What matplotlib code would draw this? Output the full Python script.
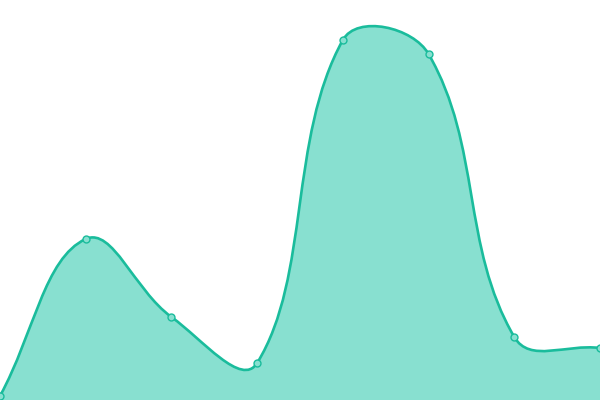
import numpy as np
import matplotlib
matplotlib.use("Agg")
import matplotlib.pyplot as plt
from matplotlib.path import Path
from matplotlib.patches import PathPatch

# dane
labels = ["A", "B", "C", "D", "E", "F", "G", "H"]
values = [4, 161, 83, 37, 360, 346, 63, 52]

line_color = "#1abc9c"
fill_color = "#88e0d0"
tension = 0.4

fig = plt.figure(figsize=(6, 4), dpi=100)
ax = fig.add_axes([0, 0, 1, 1])
ax.set_xlim(0, len(values) - 1)
ax.set_ylim(0, 400)
ax.axis("off")

# punkty w pikselach, zeby krzywa wygladala jak w Chart.js
xs = np.arange(len(values))
pts = ax.transData.transform(np.column_stack([xs, values]))


def spline_controls(pts, t):
    ctrl = []
    n = len(pts)
    for i in range(n):
        prev = pts[i - 1] if i > 0 else pts[i]
        cur = pts[i]
        nxt = pts[i + 1] if i < n - 1 else pts[i]
        d01 = np.hypot(*(cur - prev))
        d12 = np.hypot(*(nxt - cur))
        tot = d01 + d12
        s01 = d01 / tot if tot else 0
        s12 = d12 / tot if tot else 0
        c_prev = cur - t * s01 * (nxt - prev)
        c_next = cur + t * s12 * (nxt - prev)
        ctrl.append((c_prev, c_next))
    return ctrl


ctrl = spline_controls(pts, tension)
verts = [pts[0]]
codes = [Path.MOVETO]
for i in range(len(pts) - 1):
    verts += [ctrl[i][1], ctrl[i + 1][0], pts[i + 1]]
    codes += [Path.CURVE4] * 3

inv = ax.transData.inverted()
line_verts = inv.transform(np.array(verts))

# wypelnienie pod krzywa
fill_verts = np.vstack([line_verts, [[xs[-1], 0], [xs[0], 0], line_verts[0]]])
fill_codes = codes + [Path.LINETO, Path.LINETO, Path.CLOSEPOLY]
ax.add_patch(PathPatch(Path(fill_verts, fill_codes), facecolor=fill_color,
                       edgecolor="none", zorder=1))
ax.add_patch(PathPatch(Path(line_verts, codes), facecolor="none",
                       edgecolor=line_color, lw=1.9, zorder=2, clip_on=False))

ax.plot(xs, values, "o", ms=5, mfc=fill_color, mec=line_color, mew=1,
        zorder=3, clip_on=True)

fig.savefig("out.png", dpi=100)
